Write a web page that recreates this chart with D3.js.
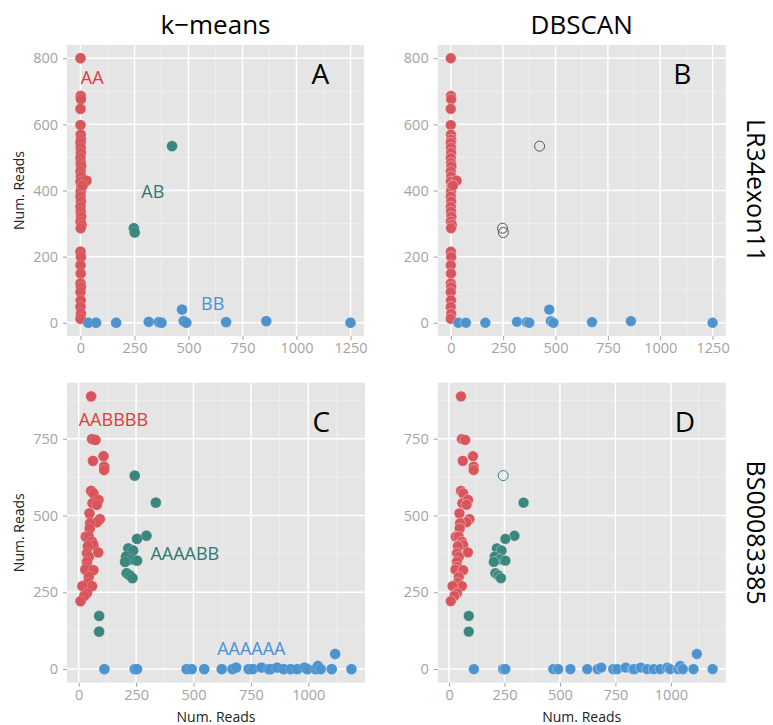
<!DOCTYPE html>
<html>
<head>
<meta charset="UTF-8">
<script src="https://d3js.org/d3.v7.min.js"></script>
<style>
    body { margin: 0; background: #fff; font-family: "Open Sans", "DejaVu Sans", sans-serif; }
    .tick line { stroke: #a0a0a0; }
    .domain { display: none; }
</style>
</head>
<body>
<svg id="chart" width="773" height="725"></svg>
<script>
// LR34exon11 : [reads allele 1, reads allele 2]
const lrAA = [[0,800],[1,686],[2,676],[0,647],[0,598],[1,569],[2,554],[0,544],[1,529],[2,514],[0,498],
    [1,483],[3,473],[0,458],[2,443],[0,427],[4,412],[1,397],[0,382],[2,367],[0,351],[1,336],[3,321],
    [0,306],[5,296],[1,286],[28,430],[10,415],[0,215],[2,199],[0,174],[1,149],[0,119],[2,108],[0,93],
    [1,68],[0,48],[2,27],[0,12]];
const lrAB = [[247,286],[251,273],[424,534]];
const lrBB = [[36,0],[72,0],[165,0],[316,3],[363,2],[375,0],[470,40],[478,5],[490,0],[674,2],[860,5],[1250,0]];
const lrNoise = [[247,286],[251,273],[424,534]];   // DBSCAN: unassigned

// BS00083385
const bsAABBBB = [[54,888],[58,749],[73,746],[62,678],[108,693],[111,659],[111,648],[54,580],[64,572],
    [60,540],[86,551],[79,535],[47,507],[92,488],[79,478],[50,475],[48,458],[31,431],[44,431],[58,415],
    [64,404],[40,400],[36,377],[85,380],[44,365],[36,349],[36,333],[29,324],[64,322],[44,300],[40,281],
    [58,270],[16,270],[36,247],[24,238],[8,221]];
const bsAAAABB = [[244,630],[336,542],[295,434],[254,424],[216,393],[237,386],[206,366],[230,357],
    [254,353],[202,349],[209,312],[223,305],[234,296],[89,173],[89,122]];
const bsAAAAAA = [[112,0],[244,0],[254,0],[470,0],[492,0],[547,0],[623,0],[670,0],[686,5],[740,0],
    [758,0],[796,5],[828,0],[835,0],[864,5],[893,0],[923,0],[952,0],[984,5],[996,0],[1032,0],[1042,10],
    [1054,0],[1102,0],[1188,0],[1117,49]];
const bsNoise = [[244,630]];

const lrXTicks = [0, 250, 500, 750, 1000, 1250];
const lrYTicks = [0, 200, 400, 600, 800];
const bsXTicks = [0, 250, 500, 750, 1000];
const bsYTicks = [0, 250, 500, 750];

// genotype labels placed in data coordinates
const lrLabels = [{text: "AA", x: 54, y: 742}, {text: "AB", x: 335, y: 395}, {text: "BB", x: 612, y: 58}];
const bsLabels = [{text: "AABBBB", x: 151, y: 813}, {text: "AAAABB", x: 462, y: 375}, {text: "AAAAAA", x: 752, y: 65}];

const pointColors = ["#d9555c", "#3b877e", "#4d93cd"];
const textColors = ["#e23a3f", "#2d7a70", "#4a90d6"];

const svg = d3.select("#chart");

const panels = [
    {letter: "A", letterPos: [1111, 752], clusters: [lrAA, lrAB, lrBB], noise: null, noiseColor: null,
     labels: lrLabels, xTicks: lrXTicks, yTicks: lrYTicks, box: [67, 45, 364, 336], xTitle: false, yTitle: true},
    {letter: "B", letterPos: [1105, 752], clusters: [lrAA, lrAB, lrBB], noise: lrNoise, noiseColor: "#555",
     labels: [], xTicks: lrXTicks, yTicks: lrYTicks, box: [437.7, 45, 725.7, 336], xTitle: false, yTitle: false},
    {letter: "C", letterPos: [1057, 805], clusters: [bsAABBBB, bsAAAABB, bsAAAAAA], noise: null, noiseColor: null,
     labels: bsLabels, xTicks: bsXTicks, yTicks: bsYTicks, box: [67, 382.7, 365, 682.7], xTitle: true, yTitle: true},
    {letter: "D", letterPos: [1063, 805], clusters: [bsAABBBB, bsAAAABB, bsAAAAAA], noise: bsNoise, noiseColor: "#3b877e",
     labels: [], xTicks: bsXTicks, yTicks: bsYTicks, box: [437.7, 382.7, 725.7, 682.7], xTitle: true, yTitle: false}
];

function expand(ext) {
    const pad = (ext[1] - ext[0]) * 0.05;
    return [ext[0] - pad, ext[1] + pad];
}

function minors(ticks, domain) {
    const step = ticks[1] - ticks[0];
    const out = [];
    for (let v = ticks[0] - step / 2; v <= domain[1]; v += step) {
        if (v >= domain[0]) out.push(v);
    }
    return out;
}

function styleTicks(sel) {
    sel.selectAll("text")
        .attr("font-size", 14.5)
        .attr("font-family", "'Open Sans', sans-serif")
        .attr("fill", "#a3a3a3");
}

panels.forEach(p => {
    const [l, t, r, b] = p.box;
    const all = p.clusters.flat();
    const x = d3.scaleLinear().domain(expand(d3.extent(all, d => d[0]))).range([l, r]);
    const y = d3.scaleLinear().domain(expand(d3.extent(all, d => d[1]))).range([b, t]);
    const g = svg.append("g");

    g.append("rect").attr("x", l).attr("y", t).attr("width", r - l).attr("height", b - t).attr("fill", "#e5e5e5");

    g.selectAll(".minx").data(minors(p.xTicks, x.domain())).enter().append("line")
        .attr("x1", d => x(d)).attr("x2", d => x(d)).attr("y1", t).attr("y2", b)
        .attr("stroke", "#f2f2f2").attr("stroke-width", 0.7);
    g.selectAll(".miny").data(minors(p.yTicks, y.domain())).enter().append("line")
        .attr("y1", d => y(d)).attr("y2", d => y(d)).attr("x1", l).attr("x2", r)
        .attr("stroke", "#f2f2f2").attr("stroke-width", 0.7);
    g.selectAll(".majx").data(p.xTicks).enter().append("line")
        .attr("x1", d => x(d)).attr("x2", d => x(d)).attr("y1", t).attr("y2", b)
        .attr("stroke", "#fff").attr("stroke-width", 1.5);
    g.selectAll(".majy").data(p.yTicks).enter().append("line")
        .attr("y1", d => y(d)).attr("y2", d => y(d)).attr("x1", l).attr("x2", r)
        .attr("stroke", "#fff").attr("stroke-width", 1.5);

    const isNoise = d => p.noise && p.noise.some(n => n[0] === d[0] && n[1] === d[1]);
    const dbscan = !!p.noise;

    p.clusters.forEach((pts, i) => {
        g.selectAll(null).data(pts.filter(d => !isNoise(d))).enter().append("circle")
            .attr("cx", d => x(d[0])).attr("cy", d => y(d[1])).attr("r", 5.4)
            .attr("fill", pointColors[i])
            .attr("stroke", dbscan ? "rgba(255,255,255,0.35)" : "rgba(255,255,255,0.15)")
            .attr("stroke-width", 1);
    });
    if (p.noise) {
        g.selectAll(null).data(p.noise).enter().append("circle")
            .attr("cx", d => x(d[0])).attr("cy", d => y(d[1])).attr("r", 5)
            .attr("fill", "none").attr("stroke", p.noiseColor).attr("stroke-width", 1);
    }

    g.selectAll(null).data(p.labels).enter().append("text")
        .attr("x", d => x(d.x)).attr("y", d => y(d.y)).attr("dy", "0.35em")
        .attr("text-anchor", "middle").attr("font-size", 18)
        .attr("fill", (d, i) => textColors[i]).text(d => d.text);

    g.append("text").attr("x", x(p.letterPos[0])).attr("y", y(p.letterPos[1])).attr("dy", "0.35em")
        .attr("text-anchor", "middle").attr("font-size", 28).attr("fill", "#000").text(p.letter);

    g.append("g").attr("transform", `translate(0,${b})`)
        .call(d3.axisBottom(x).tickValues(p.xTicks).tickSize(4).tickPadding(3).tickFormat(d3.format("d")))
        .call(styleTicks);
    g.append("g").attr("transform", `translate(${l},0)`)
        .call(d3.axisLeft(y).tickValues(p.yTicks).tickSize(4).tickPadding(5).tickFormat(d3.format("d")))
        .call(styleTicks);

    if (p.yTitle) {
        g.append("text").attr("transform", `translate(19,${(t + b) / 2}) rotate(-90)`).attr("dy", "0.35em")
            .attr("text-anchor", "middle").attr("font-size", 14).attr("fill", "#222").text("Num. Reads");
    }
    if (p.xTitle) {
        g.append("text").attr("x", (l + r) / 2).attr("y", 716.7).attr("dy", "0.35em")
            .attr("text-anchor", "middle").attr("font-size", 14).attr("fill", "#222").text("Num. Reads");
    }
});

// column titles and row strips
const columnTitles = ["k\u2212means", "DBSCAN"];
const rowTitles = ["LR34exon11", "BS00083385"];

svg.selectAll(".coltitle").data(columnTitles).enter().append("text")
    .attr("x", (d, i) => (panels[i].box[0] + panels[i].box[2]) / 2).attr("y", 25).attr("dy", "0.35em")
    .attr("text-anchor", "middle").attr("font-size", 26).attr("fill", "#000").text(d => d);

svg.selectAll(".rowtitle").data(rowTitles).enter().append("text")
    .attr("transform", (d, i) => {
        const bx = panels[i * 2 + 1].box;
        return `translate(756,${(bx[1] + bx[3]) / 2}) rotate(90)`;
    })
    .attr("dy", "0.35em").attr("text-anchor", "middle").attr("font-size", 25).attr("fill", "#000").text(d => d);
</script>
</body>
</html>
